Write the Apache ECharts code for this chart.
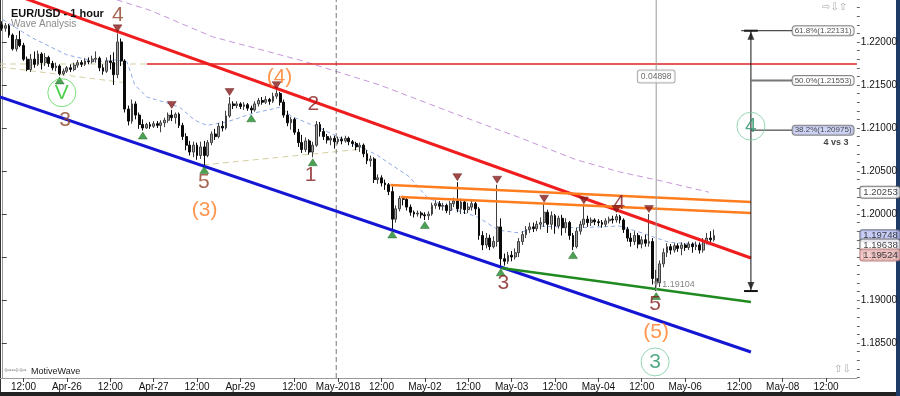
<!DOCTYPE html>
<html><head><meta charset="utf-8">
<script src="https://cdn.jsdelivr.net/npm/echarts@6/dist/echarts.min.js"></script>
<style>html,body{margin:0;padding:0;background:#fff}#c{width:900px;height:396px}</style>
</head><body><div id="c"></div>
<script>
// ---------- DATA ----------
const sessions = [['04-25',6,23],['04-26',0,23],['04-27',0,23],['04-29',21,23],['04-30',0,23],['05-01',0,23],['05-02',0,23],['05-03',0,23],['05-04',0,23],['05-06',21,23],['05-07',0,23],['05-08',0,20]];
const times = [];
sessions.forEach(([d,a,b])=>{for(let h=a;h<=b;h++) times.push(d+' '+String(h).padStart(2,'0'));});
const xTickLabels = [['04-25 12','12:00'],['04-26 00','Apr-26'],['04-26 12','12:00'],['04-27 00','Apr-27'],['04-27 12','12:00'],['04-29 21','Apr-29'],['04-30 12','12:00'],['05-01 00','May-2018'],['05-01 12','12:00'],['05-02 00','May-02'],['05-02 12','12:00'],['05-03 00','May-03'],['05-03 12','12:00'],['05-04 00','May-04'],['05-04 12','12:00'],['05-06 21','May-06'],['05-07 12','12:00'],['05-08 00','May-08'],['05-08 12','12:00']];
const yRange = [1.18093, 1.22488];
const yTickLabels = [1.185,1.19,1.195,1.2,1.205,1.21,1.215,1.22];
// [open, close, low, high] hourly
const ohlc = [
[1.2220,1.2216,1.2213,1.2224],[1.2216,1.2219,1.2212,1.2222],[1.2219,1.2208,1.2205,1.2221],[1.2208,1.2192,1.2190,1.2210],
[1.2192,1.2203,1.2189,1.2208],[1.2203,1.2196,1.2194,1.2213],[1.2196,1.2180,1.2178,1.2199],[1.2180,1.2168,1.2166,1.2183],
[1.2168,1.2180,1.2165,1.2186],[1.2180,1.2174,1.2170,1.2189],[1.2174,1.2186,1.2172,1.2190],[1.2186,1.2176,1.2168,1.2188],
[1.2176,1.2182,1.2172,1.2187],[1.2182,1.2175,1.2171,1.2184],[1.2175,1.2170,1.2167,1.2178],[1.2170,1.2172,1.2166,1.2176],
[1.2172,1.2163,1.2161,1.2174],[1.2163,1.2166,1.2161,1.2169],[1.2166,1.2170,1.2164,1.2172],[1.2170,1.2168,1.2165,1.2174],
[1.2168,1.2173,1.2166,1.2176],[1.2173,1.2176,1.2170,1.2179],[1.2176,1.2174,1.2171,1.2179],[1.2174,1.2178,1.2172,1.2181],
[1.2178,1.2177,1.2174,1.2182],[1.2177,1.2180,1.2175,1.2184],[1.2180,1.2181,1.2176,1.2189],[1.2181,1.2170,1.2166,1.2183],
[1.2170,1.2166,1.2162,1.2174],[1.2166,1.2178,1.2164,1.2182],[1.2178,1.2176,1.2168,1.2185],[1.2176,1.2162,1.2150,1.2188],
[1.2162,1.2200,1.2158,1.2210],[1.2200,1.2178,1.2172,1.2204],[1.2178,1.2122,1.2118,1.2180],[1.2122,1.2108,1.2103,1.2126],
[1.2108,1.2128,1.2105,1.2133],[1.2128,1.2115,1.2110,1.2131],[1.2115,1.2104,1.2099,1.2118],[1.2104,1.2100,1.2097,1.2110],
[1.2100,1.2104,1.2099,1.2106],[1.2104,1.2102,1.2099,1.2107],[1.2102,1.2105,1.2100,1.2108],[1.2105,1.2103,1.2100,1.2108],
[1.2103,1.2106,1.2095,1.2109],[1.2106,1.2109,1.2101,1.2112],[1.2109,1.2115,1.2106,1.2118],[1.2115,1.2112,1.2108,1.2121],
[1.2112,1.2116,1.2105,1.2118],[1.2116,1.2103,1.2100,1.2118],[1.2103,1.2090,1.2086,1.2106],[1.2090,1.2080,1.2074,1.2094],
[1.2080,1.2072,1.2068,1.2085],[1.2072,1.2080,1.2066,1.2084],[1.2080,1.2068,1.2063,1.2083],[1.2068,1.2078,1.2064,1.2084],
[1.2078,1.2068,1.2057,1.2085],[1.2068,1.2083,1.2066,1.2086],[1.2083,1.2093,1.2080,1.2096],[1.2093,1.2090,1.2086,1.2099],
[1.2090,1.2102,1.2088,1.2106],[1.2102,1.2100,1.2096,1.2108],[1.2100,1.2114,1.2098,1.2120],[1.2114,1.2128,1.2112,1.2136],
[1.2128,1.2126,1.2122,1.2131],[1.2126,1.2128,1.2123,1.2131],[1.2128,1.2125,1.2122,1.2130],[1.2125,1.2127,1.2121,1.2130],
[1.2127,1.2123,1.2120,1.2129],[1.2123,1.2121,1.2117,1.2126],[1.2121,1.2128,1.2119,1.2131],[1.2128,1.2132,1.2125,1.2135],
[1.2132,1.2130,1.2127,1.2136],[1.2130,1.2133,1.2128,1.2137],[1.2133,1.2131,1.2127,1.2135],[1.2131,1.2137,1.2129,1.2141],
[1.2137,1.2140,1.2134,1.2144],[1.2140,1.2130,1.2126,1.2142],[1.2130,1.2115,1.2112,1.2133],[1.2115,1.2106,1.2102,1.2120],
[1.2106,1.2110,1.2098,1.2113],[1.2110,1.2095,1.2092,1.2112],[1.2095,1.2083,1.2078,1.2099],[1.2083,1.2075,1.2071,1.2092],
[1.2075,1.2085,1.2072,1.2089],[1.2085,1.2072,1.2069,1.2087],[1.2072,1.2080,1.2066,1.2084],[1.2080,1.2104,1.2078,1.2108],
[1.2104,1.2096,1.2090,1.2107],[1.2096,1.2090,1.2086,1.2100],[1.2090,1.2086,1.2082,1.2093],[1.2086,1.2088,1.2080,1.2091],
[1.2088,1.2084,1.2076,1.2091],[1.2084,1.2087,1.2081,1.2090],[1.2087,1.2085,1.2081,1.2090],[1.2085,1.2088,1.2083,1.2091],
[1.2088,1.2084,1.2080,1.2090],[1.2084,1.2082,1.2078,1.2086],[1.2082,1.2078,1.2074,1.2084],[1.2078,1.2080,1.2072,1.2083],
[1.2080,1.2070,1.2066,1.2082],[1.2070,1.2062,1.2058,1.2074],[1.2062,1.2064,1.2055,1.2068],[1.2064,1.2040,1.2036,1.2066],
[1.2040,1.2042,1.2035,1.2046],[1.2042,1.2036,1.2032,1.2045],[1.2036,1.2034,1.2028,1.2040],[1.2034,1.2026,1.2022,1.2036],
[1.2026,1.1994,1.1982,1.2032],[1.1994,1.2006,1.1990,1.2010],[1.2006,1.2018,1.2003,1.2021],[1.2018,1.2017,1.2010,1.2021],
[1.2017,1.2008,1.2004,1.2019],[1.2008,1.2002,1.1998,1.2011],[1.2002,1.2000,1.1996,1.2004],[1.2000,1.2001,1.1997,1.2004],
[1.2001,1.1999,1.1995,1.2003],[1.1999,1.1998,1.1993,1.2002],[1.1998,1.2000,1.1993,1.2003],[1.2000,1.2010,1.1998,1.2013],
[1.2010,1.2012,1.2006,1.2016],[1.2012,1.2009,1.2005,1.2015],[1.2009,1.2010,1.2004,1.2013],[1.2010,1.2004,1.2001,1.2012],
[1.2004,1.2012,1.1999,1.2015],[1.2012,1.2015,1.2008,1.2019],[1.2015,1.2006,1.2002,1.2037],[1.2006,1.2014,1.2000,1.2018],
[1.2014,1.2005,1.2000,1.2016],[1.2005,1.2008,1.2001,1.2013],[1.2008,1.2012,1.2004,1.2016],[1.2012,1.2006,1.1999,1.2014],
[1.2006,1.1975,1.1970,1.2008],[1.1975,1.1964,1.1958,1.1980],[1.1964,1.1972,1.1960,1.1978],[1.1972,1.1962,1.1958,1.1976],
[1.1962,1.1968,1.1960,1.1974],[1.1968,1.1985,1.1962,1.2034],[1.1985,1.1948,1.1938,1.1995],[1.1948,1.1945,1.1940,1.1954],
[1.1945,1.1952,1.1942,1.1956],[1.1952,1.1950,1.1945,1.1957],[1.1950,1.1955,1.1947,1.1960],[1.1955,1.1968,1.1950,1.1972],
[1.1968,1.1976,1.1964,1.1980],[1.1976,1.1982,1.1972,1.1986],[1.1982,1.1985,1.1978,1.1990],[1.1985,1.1983,1.1979,1.1990],
[1.1983,1.1988,1.1980,1.1992],[1.1988,1.1990,1.1982,1.1996],[1.1990,1.2002,1.1985,1.2012],[1.2002,1.1988,1.1978,1.2005],
[1.1988,1.1998,1.1982,1.2003],[1.1998,1.1986,1.1977,1.2000],[1.1986,1.1995,1.1983,1.1998],[1.1995,1.1984,1.1975,1.1999],
[1.1984,1.1990,1.1978,1.1995],[1.1990,1.1975,1.1970,1.1992],[1.1975,1.1962,1.1958,1.1978],[1.1962,1.1980,1.1960,1.1984],
[1.1980,1.1988,1.1976,1.1992],[1.1988,1.1994,1.1984,1.2010],[1.1994,1.1990,1.1985,1.1998],[1.1990,1.1993,1.1986,1.1996],
[1.1993,1.1991,1.1987,1.1995],[1.1991,1.1990,1.1986,1.1994],[1.1990,1.1988,1.1984,1.1993],[1.1988,1.1992,1.1985,1.1995],
[1.1992,1.1994,1.1989,1.1997],[1.1994,1.1993,1.1989,1.1998],[1.1993,1.1997,1.1990,1.2000],[1.1997,1.1993,1.1989,1.1999],
[1.1993,1.1982,1.1978,1.1995],[1.1982,1.1972,1.1968,1.1985],[1.1972,1.1968,1.1962,1.1978],[1.1968,1.1975,1.1964,1.1980],
[1.1975,1.1965,1.1960,1.1978],[1.1965,1.1970,1.1960,1.1974],[1.1970,1.1966,1.1962,1.1976],[1.1966,1.1968,1.1962,1.2000],
[1.1968,1.1925,1.1918,1.1972],[1.1925,1.1920,1.19104,1.1935],[1.1920,1.1942,1.1915,1.1946],[1.1942,1.1955,1.1938,1.1960],
[1.1955,1.1962,1.1950,1.1966],[1.1962,1.1958,1.1953,1.1965],[1.1958,1.1963,1.1955,1.1966],[1.1963,1.1960,1.1956,1.1966],
[1.1960,1.1964,1.1952,1.1967],[1.1964,1.1961,1.1957,1.1966],[1.1961,1.1965,1.1958,1.1968],[1.1965,1.1962,1.1955,1.1967],
[1.1962,1.1964,1.1958,1.1968],[1.1964,1.1958,1.1954,1.1967],[1.1958,1.1968,1.1955,1.1972],[1.1968,1.1972,1.1965,1.1978],
[1.1972,1.1970,1.1966,1.1980],[1.1970,1.1975,1.1968,1.1982]
];
const pivotHighs = [32,47,63,76,126,137,150,161,170,179];
const pivotLows = [16,39,56,69,86,108,117,138,158,181];
// moving averages, sampled [barIndex, price]
const maFast = [[0.3,1.2226],[8.3,1.2205],[18,1.2185],[26.3,1.2177],[31.3,1.2179],[34.6,1.2177],[36.8,1.2150],[40.1,1.2136],[45,1.2130],[49.2,1.2124],[53.4,1.2109],[56.7,1.2103],[62.2,1.2107],[69.4,1.2117],[76.8,1.2124],[80.4,1.2113],[87.9,1.2100],[93.4,1.2089],[99,1.2078],[103.6,1.2069],[112.8,1.2043],[117.5,1.2020],[123,1.2008],[131.3,1.1997],[137.6,1.1981],[143.1,1.1978],[148.7,1.1986],[159.7,1.1984],[170.8,1.1986],[176.3,1.1979],[184.6,1.1967],[192.9,1.1965],[197,1.19638]];
const maSlow = [[31.8,1.2249],[40.9,1.2237],[58.3,1.2206],[82.4,1.2179],[104.5,1.2150],[123.8,1.2119],[143.1,1.2089],[158.9,1.2063],[170.8,1.2049],[181.8,1.2039],[195.6,1.20253]];
// trend lines [barIndex, price]
const redTrend = [[-0.5,1.2261],[207.2,1.19488]];
const blueTrend = [[-0.5,1.2136],[207.2,1.18395]];
const greenLine = [[138.2,1.19372],[207.2,1.18977]];
const orangeUpper = [[107.5,1.20337],[207.2,1.20140]];
const orangeLower = [[110.3,1.20198],[207.2,1.20012]];
const redLevel = [[40.1,1.21744],[236.5,1.21744]];
const tanLines = [[[-0.5,1.21744],[40.1,1.21744]],[[-0.5,1.2171],[33.5,1.2153]],[[55.6,1.2057],[100.9,1.2076]]];
const monthLine = 92.5;
// wave labels [text, barIndex, price]
const waveMinute = [['4',32.1,1.2231],['3',17.5,1.2109],['5',55.9,1.2037]];
const waveMinor = [['2',86.2,1.2128],['1',85.4,1.2045],['3',138.7,1.1919],['4',170.8,1.2013],['5',180.7,1.1895]];
const waveIntermediate = [['(4)',76.8,1.2159],['(3)',56.1,1.2004],['(5)',181,1.1862]];
const waveCircledV = [['V',16.6,1.2141]];
const waveCircled = [['3',180.7,1.1828],['4',207.2,1.2102]];
// measurement / fibonacci
const measureBar = 181, measureLow = 1.19104, measureHigh = 1.24002, measureText = '0.04898';
const fibBar = 207.2, fibLabelBar = 218.6, fibTop = 1.22131;
const fibLevels = [['61.8%(1.22131)',1.22131],['50.0%(1.21553)',1.21553],['38.2%(1.20975)',1.20975]];
const fibNote = ['4 vs 3', 234.3, 1.20826];
const priceTags = [1.20253, 1.19748, 1.19638, 1.19524];

// ---------- CHART ----------
const FONT = '"Liberation Sans", Arial, sans-serif';
const chart = echarts.init(document.getElementById('c'));
const lastBar = times.length - 0.5;
const tickIdx = xTickLabels.map(t=>times.indexOf(t[0]));
const labelOf = {}; xTickLabels.forEach((t,k)=>labelOf[tickIdx[k]]=t[1]);
const minorTicks = []; for (let v=1181; v<=1224; v++) minorTicks.push(v/1000);

function line(pts, color, width, type, z){
  return {type:'line', data:pts, symbol:'none', silent:true, animation:false, z:z||3, clip:true,
    lineStyle:{color, width, type:type||'solid'}};
}
function texts(items, label, z){
  return {type:'scatter', symbolSize:1, silent:true, z:z||7, itemStyle:{color:'rgba(0,0,0,0)'},
    data:items.map(t=>({name:t[0], value:[t[1],t[2]]})),
    label:Object.assign({show:true, formatter:'{b}', position:'inside', fontFamily:FONT}, label)};
}
function circled(items, text, border){
  return {type:'scatter', symbol:'circle', symbolSize:28, silent:true, z:7,
    itemStyle:{color:'rgba(255,255,255,0)', borderColor:border, borderWidth:1},
    data:items.map(t=>({name:t[0], value:[t[1],t[2]]})),
    label:{show:true, formatter:'{b}', position:'inside', fontSize:21, color:text, fontFamily:FONT}};
}
const tagStyles = [
  {backgroundColor:'#fff', borderColor:'#555'},
  {backgroundColor:'#b9c1f2', borderColor:'#556'},
  {backgroundColor:'#fff', borderColor:'#555'},
  {backgroundColor:'#f5c3c3', borderColor:'#a66'}
];

const series = [
  line(maSlow, '#c596dc', 1, [6,4], 1),
  line(maFast, '#8eaae8', 1, [4,3], 1),
  ...tanLines.map(l=>line(l, '#d6cfa2', 1, [6,4], 1)),
  line([[monthLine,yRange[0]],[monthLine,yRange[1]]], '#777', 1, [5,3], 1),
  line(redLevel, '#e32222', 1.3, 'solid', 3),
  {type:'candlestick', z:2, silent:true, animation:false, barWidth:2.4,
   data:ohlc.map((d,i)=>[i,d[0],d[1],d[2],d[3]]), encode:{x:0,y:[1,2,3,4]},
   itemStyle:{color:'#a0a0a0', color0:'#0a0a0a', borderColor:'#404040', borderColor0:'#0a0a0a', borderWidth:1}},
  line(redTrend, '#ef1d1d', 3, 'solid', 3),
  line(blueTrend, '#1515d4', 3, 'solid', 3),
  line(greenLine, '#1f8a1f', 2.5, 'solid', 3),
  line(orangeUpper, '#ff7d1e', 2.5, 'solid', 3),
  line(orangeLower, '#ff7d1e', 2.5, 'solid', 3),
  // pivots
  {type:'scatter', symbol:'triangle', symbolRotate:180, symbolSize:[9,7], symbolOffset:[0,-5], z:5, silent:true,
   itemStyle:{color:'#8a1c1c', borderColor:'#5a0e0e', borderWidth:0.5},
   data:pivotHighs.map(i=>[i, ohlc[i][3]])},
  {type:'scatter', symbol:'triangle', symbolSize:[9,7], symbolOffset:[0,5], z:5, silent:true,
   itemStyle:{color:'#1f8a2a', borderColor:'#0e5a14', borderWidth:0.5},
   data:pivotLows.map(i=>[i, ohlc[i][2]])},
  // measurement line
  line([[measureBar,measureLow],[measureBar,measureHigh]], '#9a9a9a', 1, 'solid', 4),
  texts([[measureText, measureBar, (measureLow+measureHigh)/2]],
    {fontSize:8.5, color:'#444', backgroundColor:'#fff', borderColor:'#999', borderWidth:1, padding:[2,3,1,3], borderRadius:2, offset:[0,-4]}, 6),
  {type:'scatter', symbol:'triangle', symbolRotate:180, symbolSize:[6,5], symbolOffset:[0,-7], z:6, silent:true,
   itemStyle:{color:'#8c8c8c'}, data:[{name:measureLow.toFixed(5), value:[measureBar, measureLow]}],
   label:{show:true, formatter:'{b}', position:'right', distance:3, fontSize:9, color:'#666', fontFamily:FONT}},
  // fib
  line([[fibBar,fibTop],[fibBar,measureLow]], '#111', 1, 'solid', 4),
  line([[fibBar-1.9,measureLow],[fibBar+1.9,measureLow]], '#111', 2, 'solid', 4),
  line([[fibBar-1.9,fibTop],[fibBar+1.9,fibTop]], '#111', 2, 'solid', 4),
  line([[fibBar-2.7,fibLevels[0][1]],[fibLabelBar,fibLevels[0][1]]], '#222', 1, 'solid', 4),
  line([[fibBar,fibLevels[1][1]],[fibLabelBar,fibLevels[1][1]]], '#777', 2, 'solid', 4),
  line([[fibBar,fibLevels[2][1]],[fibLabelBar,fibLevels[2][1]]], '#222', 1, 'solid', 4),
  {type:'scatter', symbol:'triangle', symbolSize:[7,8], symbolOffset:[0,5], z:5, silent:true,
   itemStyle:{color:'#111'}, data:[[fibBar,fibTop]]},
  {type:'scatter', symbol:'triangle', symbolRotate:180, symbolSize:[7,8], symbolOffset:[0,-5], z:5, silent:true,
   itemStyle:{color:'#111'}, data:[[fibBar,measureLow]]},
  {type:'scatter', symbolSize:1, silent:true, z:7, itemStyle:{color:'rgba(0,0,0,0)'},
   data:fibLevels.map((f,k)=>({name:f[0], value:[fibLabelBar,f[1]],
     label:{backgroundColor:k===2?'#c3c9f1':'#fff'}})),
   label:{show:true, formatter:'{b}', position:'right', distance:0, fontSize:8, color:'#222', fontFamily:FONT,
     borderColor:'#666', borderWidth:1, borderRadius:3, padding:[1,2,0,2]}},
  texts([fibNote], {position:'left', distance:0, fontSize:9, fontWeight:'bold', color:'#111'}, 7),
  // price tags on the right axis
  {type:'scatter', symbolSize:1, silent:true, z:8, clip:false, itemStyle:{color:'rgba(0,0,0,0)'},
   data:priceTags.map((v,k)=>({name:v.toFixed(5), value:[lastBar, v], label:tagStyles[k]})),
   label:{show:true, formatter:'{b}', position:'right', distance:3, fontSize:9.5, color:'#111', fontFamily:FONT,
     borderWidth:1, borderRadius:2, padding:[1,2,0,3], lineHeight:10}},
  // wave labels
  texts(waveMinute, {fontSize:21, color:'#8e3f24'}, 7),
  texts(waveMinor, {fontSize:21, color:'#861b1b'}, 7),
  texts(waveIntermediate, {fontSize:21, color:'#ff7a22'}, 7),
  circled(waveCircledV, '#22c522', '#5ad65a'),
  circled(waveCircled, '#2a9468', '#7ccaa3')
];

chart.setOption({
  animation:false,
  textStyle:{fontFamily:FONT},
  title:{text:'EUR/USD - 1 hour', subtext:'Wave Analysis', left:6, top:3, itemGap:0,
    textStyle:{fontSize:11, fontWeight:'bold', color:'#111', fontFamily:FONT},
    subtextStyle:{fontSize:10, color:'#8a8a8a', fontFamily:FONT}},
  grid:{left:0, right:42, top:0, bottom:18, containLabel:false},
  xAxis:{type:'value', min:-0.5, max:lastBar,
    axisLine:{lineStyle:{color:'#9a9a9a'}}, splitLine:{show:false},
    axisTick:{customValues:tickIdx, length:4, lineStyle:{color:'#444'}},
    axisLabel:{customValues:tickIdx, formatter:v=>labelOf[Math.round(v)]||'', fontSize:10, color:'#111', margin:4, fontFamily:FONT}},
  yAxis:[
    {type:'value', position:'right', min:yRange[0], max:yRange[1], scale:true,
     axisLine:{show:true, lineStyle:{color:'#9a9a9a'}}, splitLine:{show:false},
     axisTick:{customValues:yTickLabels, length:5, lineStyle:{color:'#444'}},
     axisLabel:{customValues:yTickLabels, formatter:v=>v.toFixed(5), fontSize:10, color:'#111', margin:4, fontFamily:FONT}},
    {type:'value', position:'right', min:yRange[0], max:yRange[1], scale:true,
     axisLine:{show:false}, splitLine:{show:false}, axisLabel:{show:false},
     axisTick:{show:true, customValues:minorTicks, length:3, lineStyle:{color:'#666'}}}
  ],
  graphic:[
    {type:'text', left:4, top:366, style:{text:'⇦⇨⇦', fontSize:9, fill:'#888', fontFamily:'DejaVu Sans'}},
    {type:'text', left:31, top:367, style:{text:'MotiveWave', fontSize:9, fill:'#222', fontFamily:FONT}},
    {type:'text', left:822, top:2, style:{text:'⇨⇩⇧', fontSize:10, fill:'#aaa', fontFamily:'DejaVu Sans'}},
    {type:'text', left:834, top:364, style:{text:'⇧⇩', fontSize:10, fill:'#aaa', fontFamily:'DejaVu Sans'}},
    {type:'rect', shape:{x:0, y:0, width:1, height:396}, style:{fill:'#333'}},
    {type:'rect', shape:{x:0, y:392, width:900, height:4}, style:{fill:'#222'}},
    {type:'rect', shape:{x:896, y:0, width:4, height:396}, style:{fill:'#1e3a66'}}
  ],
  series
});
</script></body></html>
